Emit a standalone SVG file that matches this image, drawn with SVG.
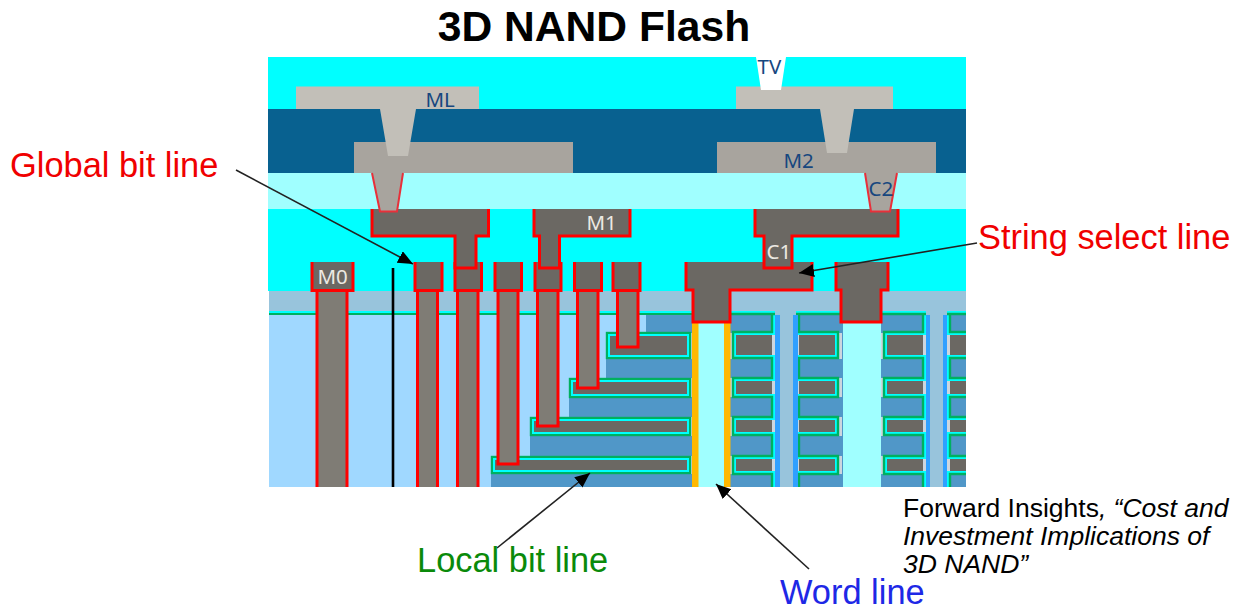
<svg xmlns="http://www.w3.org/2000/svg" xmlns:xlink="http://www.w3.org/1999/xlink" width="1247" height="613" viewBox="0 0 1247 613">
<style>
text{font-family:"Liberation Sans",Arial,sans-serif}
.lbl{font-size:34.400px}
.cap{font-size:26.500px;fill:#000}
.m{font-family:"Noto Sans","DejaVu Sans",sans-serif;font-size:20.500px}
.dk{fill:#17477f}
.lt{fill:#ece9e2}
.pad{fill:#6b6863;stroke:#f00;stroke-width:3}
.stem{fill:#7f7c75;stroke:#f00;stroke-width:3}
.via{fill:#a8a49e;stroke:#e8303a;stroke-width:2}
.g{fill:none;stroke:#00b060;stroke-width:2.400}
.c{fill:none;stroke:#00ffff;stroke-width:2}
.gr{fill:#6b6863}
.lg{fill:#cdd6de}
.arrow{fill:none;stroke:#222;stroke-width:1.600;marker-end:url(#ah)}
</style>
<defs>
<clipPath id="fig"><rect x="268" y="57" width="698" height="430"/></clipPath>
<marker id="ah" markerUnits="userSpaceOnUse" markerWidth="16" markerHeight="14" refX="15" refY="6.500" orient="auto"><path d="M0,0L15,6.500L0,13Z" fill="#000"/></marker>
<g id="serp">
<rect x="-5" y="315" width="44" height="172" fill="#5097c8"/>
<rect class="lg" x="-4" y="333" width="4" height="26"/><rect class="lg" x="-4" y="378" width="4" height="19"/><rect class="lg" x="-4" y="417" width="4" height="19"/><rect class="lg" x="-4" y="456" width="4" height="18"/>
<rect class="lg" x="39" y="335" width="3" height="20"/><rect class="lg" x="39" y="381" width="3" height="13"/><rect class="lg" x="39" y="420" width="3" height="12"/><rect class="lg" x="39" y="459" width="3" height="12"/>
<rect class="gr" x="3" y="335" width="36" height="20"/><rect class="gr" x="3" y="381" width="36" height="13"/><rect class="gr" x="3" y="420" width="36" height="12"/><rect class="gr" x="3" y="459" width="36" height="12"/>
<path class="c" d="M-2,312H41V334H2V356H41V380H2V395H41V419H2V433H41V458H2V472H41V495"/>
<path class="g" d="M-2,314H42M39,314V332H0V358H39V378H0V397H39V417H0V435H39V456H0V474H39V495"/>
</g>
</defs>
<g id="title"><text x="594" y="41" text-anchor="middle" font-size="42.600" font-weight="bold" fill="#000">3D NAND Flash</text></g>
<g id="stack" clip-path="url(#fig)">
<g id="layers">
<rect x="268" y="57" width="698" height="234" fill="#00ffff"/>
<rect x="268" y="109" width="698" height="64" fill="#086190"/>
<rect x="268" y="173" width="698" height="36" fill="#a0ffff"/>
<rect x="269" y="291" width="697" height="196" fill="#98c4dc"/>
<rect x="269" y="315" width="423" height="172" fill="#a0d8ff"/>
<rect x="269" y="311" width="424" height="2" fill="#00ffff"/>
<rect x="269" y="313" width="424" height="2" fill="#00b060"/>
</g>
<g id="left-stairs">
<path d="M646,315H692V487H491V456H530V417H569V378H606V332H646Z" fill="#5097c8"/>
<g class="lg"><rect x="691" y="333" width="3" height="26"/><rect x="691" y="378" width="3" height="19"/><rect x="691" y="417" width="3" height="19"/><rect x="691" y="456" width="3" height="18"/></g>
<g fill="#6b6863"><rect class="g" x="607" y="333" width="83" height="25"/><rect class="c" x="609" y="335" width="79" height="21"/><rect class="gr" x="610" y="336" width="77" height="19"/>
<rect class="g" x="570" y="379" width="120" height="18"/><rect class="c" x="572" y="381" width="116" height="14"/><rect class="gr" x="573" y="382" width="114" height="12"/>
<rect class="g" x="531" y="418" width="159" height="17"/><rect class="c" x="533" y="420" width="155" height="13"/><rect class="gr" x="534" y="421" width="153" height="11"/>
<rect class="g" x="492" y="457" width="198" height="16"/><rect class="c" x="494" y="459" width="194" height="12"/><rect class="gr" x="495" y="460" width="192" height="10"/></g>
</g>
<g id="right-columns">
<use xlink:href="#serp" href="#serp" transform="translate(733,0)"/>
<use xlink:href="#serp" href="#serp" transform="translate(838,0) scale(-1,1)"/>
<use xlink:href="#serp" href="#serp" transform="translate(884,0)"/>
<use xlink:href="#serp" href="#serp" transform="translate(989,0) scale(-1,1)"/>
<g fill="#30a0ff"><rect x="775" y="315" width="5" height="172"/><rect x="793" y="315" width="5" height="172"/><rect x="926" y="315" width="4" height="172"/><rect x="943" y="315" width="4" height="172"/></g>
</g>
<g id="word-line-pillars">
<rect x="698" y="315" width="26" height="172" fill="#a0ffff"/>
<rect x="843" y="315" width="38" height="172" fill="#a0ffff"/>
<rect x="692" y="320" width="6.500" height="167" fill="#ffb800"/>
<rect x="724" y="320" width="6.500" height="167" fill="#ffb800"/>
</g>
<g id="M2-left"><rect x="354" y="142" width="219" height="31" fill="#a8a49e"/></g>
<g id="M2-right"><rect x="717" y="142" width="219" height="31" fill="#a8a49e"/></g>
<g id="ML"><path d="M296,86.500H479V109H416L408,156H388L380,109H296Z" fill="#c2bfb8"/></g>
<g id="ML-right"><path d="M736,86.500H893V109H854L847,153H827L820,109H736Z" fill="#c2bfb8"/></g>
<g id="TV"><path d="M756,57H786L781,90H761Z" fill="#fff"/></g>
<g id="M0-stems">
<path class="stem" d="M317,291V495H347V291"/>
<path class="stem" d="M417.500,291V495H437.500V291"/>
<path class="stem" d="M457.500,291V495H478V291"/>
<path class="stem" d="M498,291V464H518V291"/>
<path class="stem" d="M537.500,291V426H558V291"/>
<path class="stem" d="M577.500,291V388H598V291"/>
<path class="stem" d="M617.500,291V347H638V291"/>
</g>
<g id="M0-pads">
<path class="pad" d="M312,262V290.500H353V262"/>
<path class="pad" d="M415,262V290.500H442V262"/>
<path class="pad" d="M455,262V290.500H481.500V262"/>
<path class="pad" d="M495,262V290.500H521.500V262"/>
<path class="pad" d="M535,262V290.500H561V262"/>
<path class="pad" d="M574.500,262V290.500H601.500V262"/>
<path class="pad" d="M613,262V290.500H640V262"/>
<path class="pad" d="M686,262V290H693V322H730V290H812V262"/>
<path class="pad" d="M836,262V290H841V322H881V290H888V262"/>
</g>
<g id="M1">
<path class="pad" d="M372,209V236H455V268H476V236H488.500V209"/>
<path class="pad" d="M534,209V236H539.500V268H559.500V236H630V209"/>
<path class="pad" d="M755,209V236H764V268H792V236H898V209"/>
</g>
<g id="C2">
<path class="via" d="M372,173L380,211.500H397L403,173"/>
<path class="via" d="M865,173L871,211.500H890L897,173"/>
</g>
<g id="black-line"><rect x="391.700" y="268" width="2.600" height="219" fill="#000"/></g>
<g id="metal-labels">
<text class="m dk" x="425.500" y="107">ML</text>
<text class="m dk" x="757.500" y="74">TV</text>
<text class="m dk" x="783.500" y="168">M2</text>
<text class="m dk" x="868.500" y="196">C2</text>
<text class="m lt" x="586.500" y="230">M1</text>
<text class="m lt" x="766.500" y="259">C1</text>
<text class="m lt" x="317.500" y="284">M0</text>
</g>
</g>
<g id="connectors">
<path class="arrow" d="M236,170L413,264"/>
<path class="arrow" d="M977,243L799,273"/>
<path class="arrow" d="M497,548L590,473"/>
<path class="arrow" d="M809,569L716,484"/>
</g>
<g id="global-bit-line"><text class="lbl" x="10" y="177" fill="#f00000">Global bit line</text></g>
<g id="string-select-line"><text class="lbl" x="978" y="249" fill="#f00000">String select line</text></g>
<g id="local-bit-line"><text class="lbl" x="417" y="572" fill="#0a8a0a">Local bit line</text></g>
<g id="word-line"><text class="lbl" x="780" y="604" fill="#1e28e6">Word line</text></g>
<g id="citation">
<text class="cap" x="903" y="517">Forward Insights<tspan font-style="italic">, “Cost and</tspan></text>
<text class="cap" x="903" y="545" font-style="italic">Investment Implications of</text>
<text class="cap" x="903" y="573" font-style="italic">3D NAND”</text>
</g>
</svg>
